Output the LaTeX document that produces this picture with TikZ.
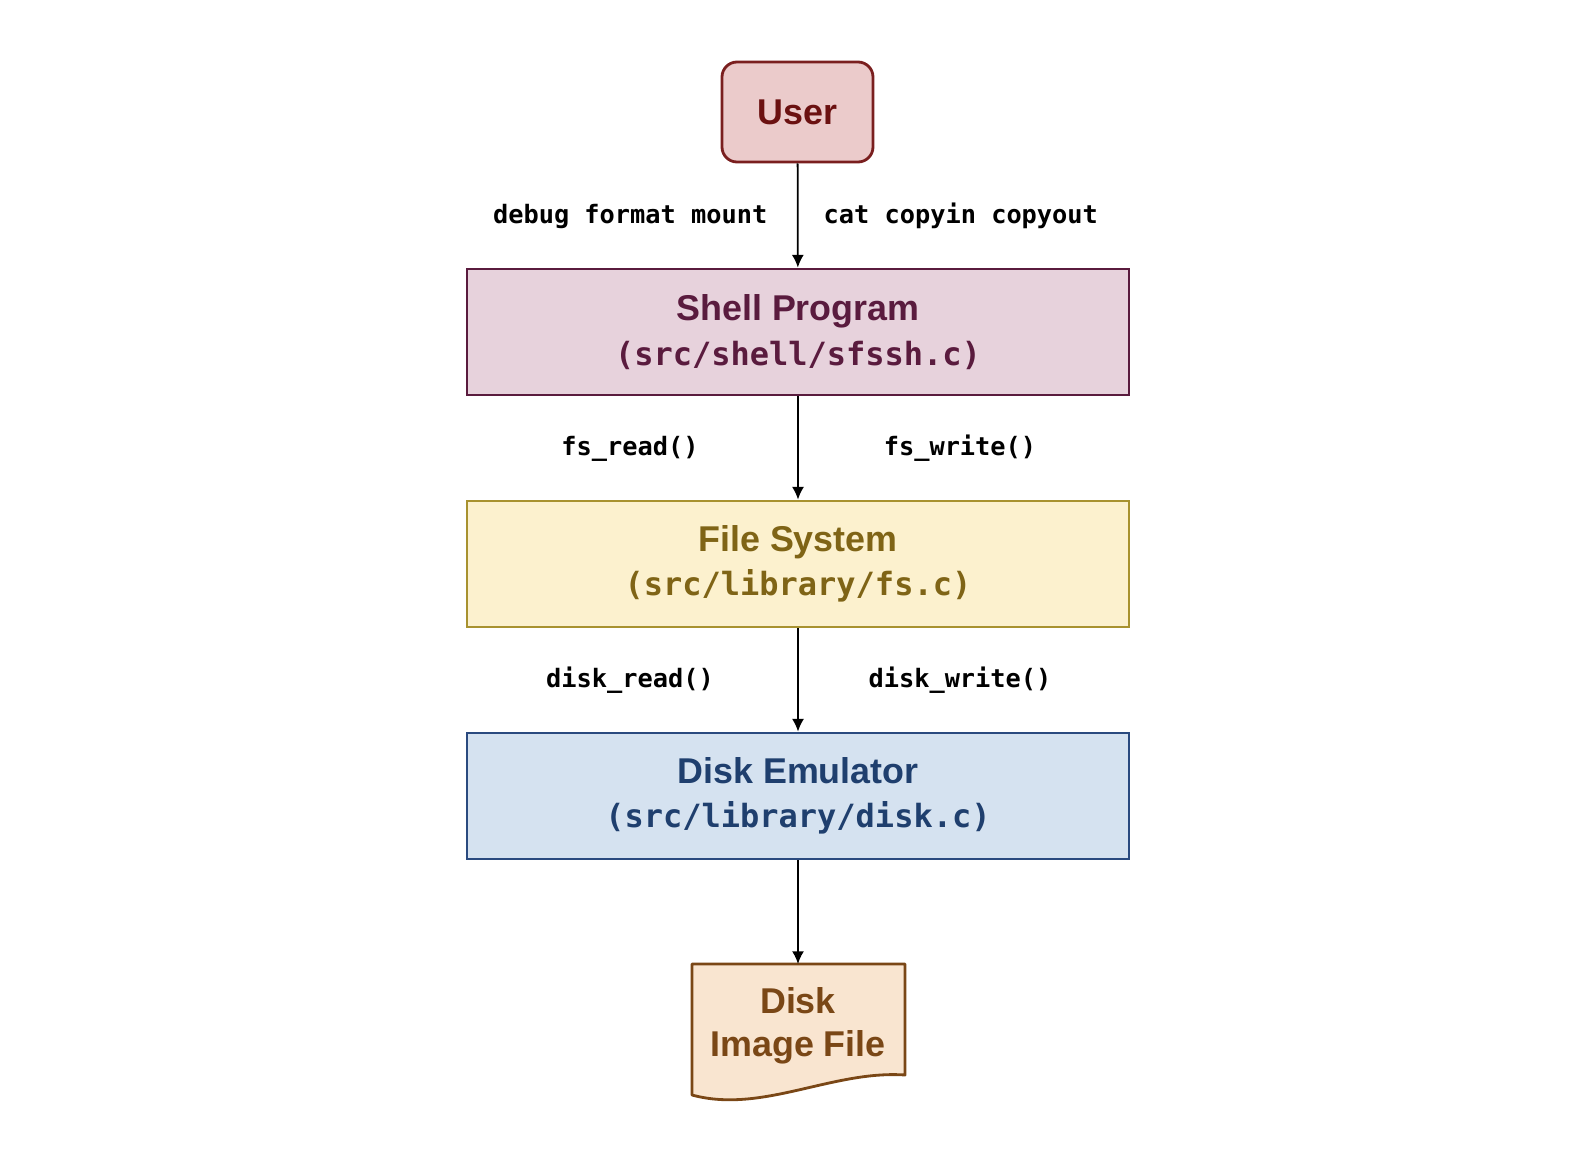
\documentclass[tikz,border=0pt]{standalone}
\usepackage{fontspec}
\setmainfont{Liberation Sans}
\newfontfamily\codefont{DejaVu Sans Mono}
\usepackage{tikz}
\usetikzlibrary{arrows.meta,calc}
\definecolor{userfill}{HTML}{EBCBCB}
\definecolor{userline}{HTML}{7A1F1F}
\definecolor{usertext}{HTML}{6B1111}
\definecolor{shellfill}{HTML}{E7D2DC}
\definecolor{shellline}{HTML}{5A1B3E}
\definecolor{fsfill}{HTML}{FCF1CE}
\definecolor{fsline}{HTML}{A8922F}
\definecolor{fstext}{HTML}{7F6416}
\definecolor{diskfill}{HTML}{D5E2F0}
\definecolor{diskline}{HTML}{2A4A7F}
\definecolor{disktext}{HTML}{1F3F6E}
\definecolor{imgfill}{HTML}{F9E5D0}
\definecolor{imgline}{HTML}{7A4716}
\newcommand{\boxtext}[2]{\textbf{#1}\\[0.4pt]{\codefont\bfseries\fontsize{9.1}{11}\selectfont(#2)}}

\begin{document}
\begin{tikzpicture}[x=1cm,y=-1cm,
  layer/.style={draw,line width=0.8pt,minimum width=6.62cm,minimum height=1.26cm,inner sep=0pt,align=center,font=\fontsize{10.2}{12.2}\selectfont},
  call/.style={inner sep=0pt,font=\codefont\bfseries\fontsize{7.2}{9}\selectfont},
  flow/.style={-{Latex[length=3.6pt,width=3.4pt]},line width=0.5pt}]
\useasboundingbox (0,0) rectangle (15.72,11.60);

\node [draw=userline,fill=userfill,text=usertext,line width=0.8pt,rounded corners=0.15cm,minimum width=1.51cm,minimum height=1.00cm,font=\bfseries\fontsize{10.2}{12}\selectfont] (user) at (7.975,1.12) {User};
\node [layer,draw=shellline,fill=shellfill,text=shellline] (shell) at (7.98,3.32) {\boxtext{Shell Program}{src/shell/sfssh.c}};
\node [layer,draw=fsline,fill=fsfill,text=fstext] (fs) at (7.98,5.64) {\boxtext{File System}{src/library/fs.c}};
\node [layer,draw=diskline,fill=diskfill,text=disktext] (disk) at (7.98,7.96) {\boxtext{Disk Emulator}{src/library/disk.c}};

% disk image file (document shape)
\coordinate (imgtop) at (7.98,9.64);
\fill [imgfill] (6.92,9.64) -- (9.05,9.64) -- (9.05,10.75) .. controls (8.32,10.70) and (7.62,11.14) .. (6.92,10.95) -- cycle;
\draw [imgline,line width=0.8pt,line join=round] (6.92,9.64) -- (9.05,9.64) -- (9.05,10.75) .. controls (8.32,10.70) and (7.62,11.14) .. (6.92,10.95) -- cycle;
\node [text=imgline,align=center,font=\bfseries\fontsize{10.2}{12.2}\selectfont] (img) at (7.98,10.26) {Disk\\Image File};

\draw [flow] (user) -- (shell);
\draw [flow] (shell) -- (fs);
\draw [flow] (fs) -- (disk);
\draw [flow] (disk) -- (imgtop);

\node [call,anchor=base east] (admin) at (7.68,2.23) {debug format mount};
\node [call,anchor=base west] (files) at (8.23,2.23) {cat copyin copyout};
\node [call,anchor=base] (fsread) at (6.30,4.55) {fs\_read()};
\node [call,anchor=base] (fswrite) at (9.60,4.55) {fs\_write()};
\node [call,anchor=base] (dread) at (6.30,6.87) {disk\_read()};
\node [call,anchor=base] (dwrite) at (9.60,6.87) {disk\_write()};
\end{tikzpicture}
\end{document}
